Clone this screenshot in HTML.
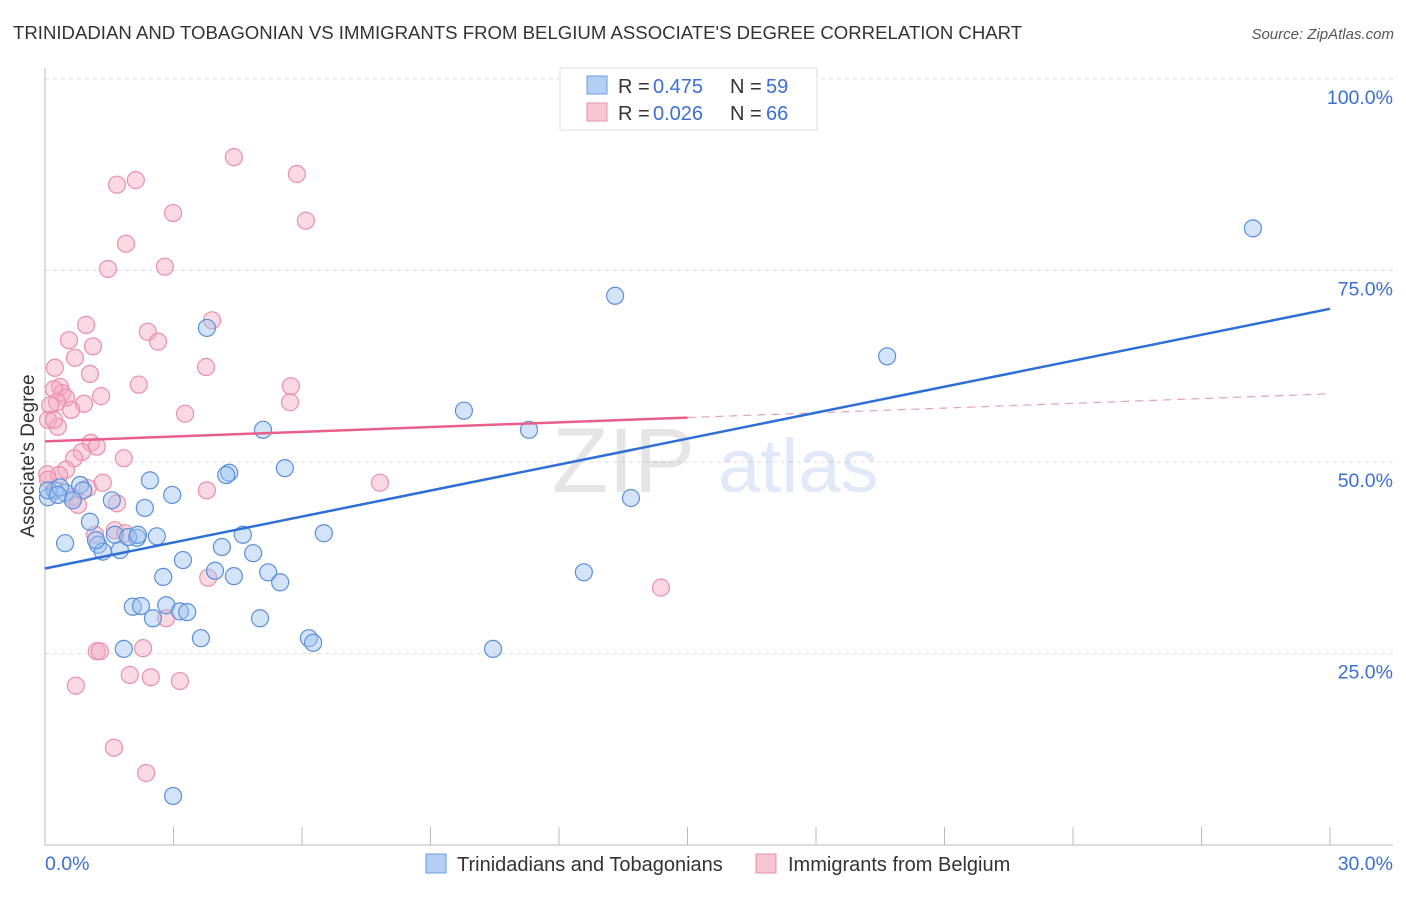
<!DOCTYPE html>
<html><head><meta charset="utf-8"><style>
body{margin:0;background:#fff;font-family:"Liberation Sans",sans-serif;}
svg text{font-family:"Liberation Sans",sans-serif;}
</style></head><body>
<svg id="chart" width="1406" height="892" viewBox="0 0 1406 892" xmlns="http://www.w3.org/2000/svg">
<text x="13" y="39" font-size="18.6" fill="#333">TRINIDADIAN AND TOBAGONIAN VS IMMIGRANTS FROM BELGIUM ASSOCIATE'S DEGREE CORRELATION CHART</text>
<text x="1394" y="39" font-size="15" fill="#555" font-style="italic" text-anchor="end">Source: ZipAtlas.com</text>
<g id="grid"></g>
<g opacity="0.15">
<text x="552" y="492" font-size="92" font-family="Liberation Serif" fill="#555">ZIP</text>
<text x="718" y="492" font-size="76" fill="#3b6fd4">atlas</text>
</g>
<g id="points"></g>
<g id="trends"></g>
<text transform="translate(34,456) rotate(-90)" font-size="19" fill="#333" text-anchor="middle">Associate's Degree</text>
<g>
<rect x="560" y="68" width="257" height="62" fill="#fff" stroke="#ddd"/>
<rect x="587" y="76" width="20" height="18" fill="#b5cff2" stroke="#6b9be0"/>
<text x="618" y="93" font-size="20" fill="#333">R =</text>
<text x="653" y="93" font-size="20" fill="#3b6fd4">0.475</text>
<text x="730" y="93" font-size="20" fill="#333">N =</text>
<text x="766" y="93" font-size="20" fill="#3b6fd4">59</text>
<rect x="587" y="103" width="20" height="18" fill="#f8c5d4" stroke="#e890ab"/>
<text x="618" y="120" font-size="20" fill="#333">R =</text>
<text x="653" y="120" font-size="20" fill="#3b6fd4">0.026</text>
<text x="730" y="120" font-size="20" fill="#333">N =</text>
<text x="766" y="120" font-size="20" fill="#3b6fd4">66</text>
</g>
<g>
<rect x="426" y="854" width="20" height="19" fill="#b5cff2" stroke="#6b9be0"/>
<text x="457" y="871" font-size="20" fill="#333">Trinidadians and Tobagonians</text>
<rect x="756" y="854" width="20" height="19" fill="#f8c5d4" stroke="#e890ab"/>
<text x="788" y="871" font-size="20" fill="#333">Immigrants from Belgium</text>
</g>
</svg>
<script>
const blueX=[28.20,13.31,19.66,3.78,9.78,11.30,5.09,13.68,5.60,4.30,4.23,2.45,2.97,1.56,2.33,0.07,0.23,0.47,0.82,0.89,0.65,1.05,0.47,1.24,1.35,1.75,1.63,2.15,2.61,1.94,4.62,6.51,4.13,4.86,3.22,2.76,4.41,5.21,5.49,3.97,12.58,2.05,2.24,2.83,3.15,3.32,2.52,5.02,3.64,6.16,6.26,10.46,1.84,2.99,0.07,0.35,0.30,1.19,2.17];
const blueY=[80.5,71.7,63.8,67.5,56.7,54.2,54.2,45.3,49.2,48.6,48.3,47.6,45.7,45.0,44.0,45.4,46.3,46.0,47.0,46.3,45.0,42.2,39.4,39.2,38.3,38.5,40.5,40.1,40.3,40.2,40.5,40.7,38.9,38.1,37.2,35.0,35.1,35.6,34.3,35.8,35.6,31.1,31.2,31.3,30.5,30.4,29.6,29.6,27.0,27.0,26.4,25.6,25.6,6.4,46.3,46.7,45.7,39.8,40.5];
const pinkX=[4.41,5.88,1.68,2.12,2.99,6.09,1.89,1.47,2.80,3.90,0.96,2.40,2.64,0.56,1.12,0.70,0.23,3.76,1.05,2.19,5.74,0.35,0.40,0.21,1.31,0.49,0.28,0.91,5.72,0.12,3.27,0.61,0.07,0.30,1.07,1.21,0.86,0.68,1.84,0.49,0.05,0.33,7.82,1.35,0.65,0.77,3.78,1.68,1.63,1.17,1.87,3.81,14.38,2.83,2.29,1.21,1.28,1.98,2.47,3.15,0.72,1.61,2.36,0.07,1.00,0.21];
const pinkY=[89.8,87.6,86.2,86.8,82.5,81.5,78.5,75.2,75.5,68.5,67.9,67.0,65.7,65.9,65.1,63.6,62.3,62.4,61.5,60.1,59.9,59.8,59.0,59.5,58.6,58.4,57.8,57.6,57.8,57.4,56.3,56.8,55.5,54.6,52.5,52.0,51.3,50.5,50.5,49.0,48.4,48.3,47.3,47.3,45.4,44.4,46.3,44.6,41.1,40.5,40.7,34.9,33.6,29.6,25.7,25.3,25.3,22.2,21.9,21.4,20.8,12.7,9.4,47.7,46.6,55.5];
const blueTrend=[36.1,70.0];
const pinkTrend=[52.7,58.9];
const pinkSolidEnd=15;
const yTicks=[25,50,75,100];
const yTickLabels=["25.0%","50.0%","75.0%","100.0%"];
const xTicks=[0,3,6,9,12,15,18,21,24,27,30];
const xLabels=["0.0%","30.0%"];

const NS="http://www.w3.org/2000/svg";
const X=v=>45+v*(1285/30);
const Y=v=>845-v*7.66;
function mk(tag,attrs,parent){const e=document.createElementNS(NS,tag);for(const k in attrs)e.setAttribute(k,attrs[k]);parent.appendChild(e);return e;}
const grid=document.getElementById('grid');
yTicks.forEach((t,i)=>{
  const l=mk('line',{x1:45,x2:1393,y1:Y(t),y2:Y(t),stroke:'#ddd','stroke-dasharray':'4,4'},grid);
  
  
  const tx=mk('text',{x:1393,y:Y(t)+25,'font-size':19.5,fill:'#3b6fd4','text-anchor':'end'},grid);
  tx.textContent=yTickLabels[i];
  
  
});
const ax=mk('line',{x1:45,x2:45,y1:68,y2:845,stroke:'#bbb'},grid);


const bx=mk('line',{x1:45,x2:1393,y1:845,y2:845,stroke:'#bbb'},grid);


xTicks.forEach(t=>{
  const l=mk('line',{x1:X(t),x2:X(t),y1:827,y2:845,stroke:'#bbb'},grid);
  
  
});
const xl0=mk('text',{x:45,y:870,'font-size':19.5,fill:'#3b6fd4'},grid);xl0.textContent=xLabels[0];


const xl1=mk('text',{x:1393,y:870,'font-size':19.5,fill:'#3b6fd4','text-anchor':'end'},grid);xl1.textContent=xLabels[1];



const pts=document.getElementById('points');
pinkX.forEach((v,i)=>{
  const c=mk('circle',{cx:X(v),cy:Y(pinkY[i]),r:8.5,fill:'rgba(244,170,192,0.45)',stroke:'#eb8fab','stroke-width':1.2},pts);
  
  
});
blueX.forEach((v,i)=>{
  const c=mk('circle',{cx:X(v),cy:Y(blueY[i]),r:8.5,fill:'rgba(160,196,240,0.45)',stroke:'#5a8fdc','stroke-width':1.2},pts);
  
  
});
const tr=document.getElementById('trends');
const pAt=x=>pinkTrend[0]+(pinkTrend[1]-pinkTrend[0])*x/30;
const pl=mk('line',{x1:X(0),y1:Y(pinkTrend[0]),x2:X(pinkSolidEnd),y2:Y(pAt(pinkSolidEnd)),stroke:'#e8608a','stroke-width':2.5},tr);


const pd=mk('line',{x1:X(pinkSolidEnd),y1:Y(pAt(pinkSolidEnd)),x2:X(30),y2:Y(pinkTrend[1]),stroke:'#e8a0b6','stroke-width':1.2,'stroke-dasharray':'8,6'},tr);


const bl=mk('line',{x1:X(0),y1:Y(blueTrend[0]),x2:X(30),y2:Y(blueTrend[1]),stroke:'#2e6fd6','stroke-width':2.5},tr);


</script>
</body></html>
